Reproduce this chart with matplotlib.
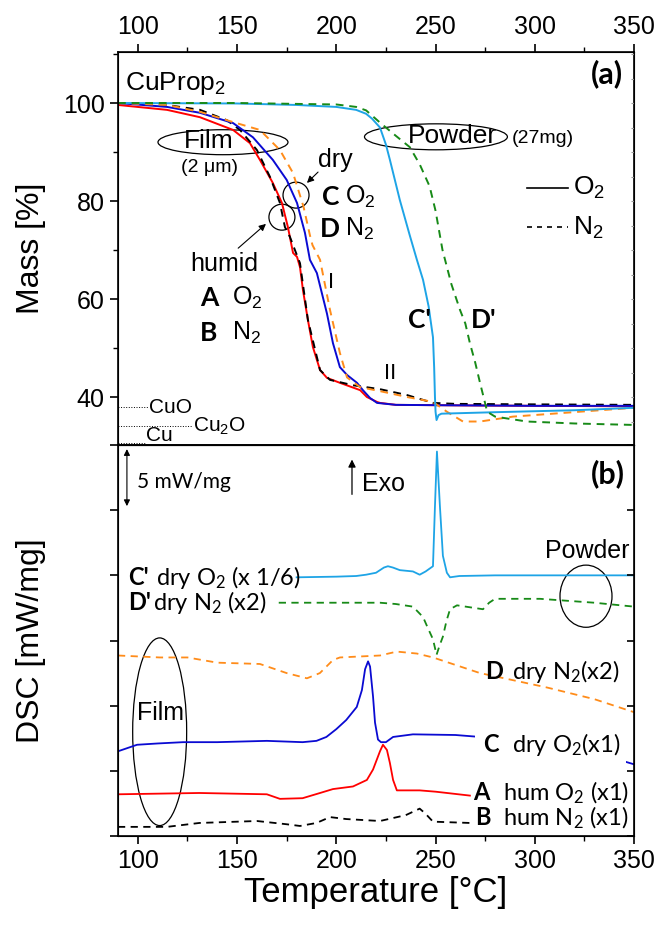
import matplotlib
matplotlib.use("Agg")
import matplotlib.pyplot as plt
from matplotlib.patches import Ellipse
from matplotlib.ticker import MultipleLocator, NullFormatter

plt.rcParams['font.family'] = ['Liberation Sans', 'DejaVu Sans']
plt.rcParams['mathtext.default'] = 'regular'

# ---- TGA (mass %) ----
tA = [90, 114.7, 131.3, 148, 156.5, 161.5, 168, 172.6, 175.6, 178.2, 180.2, 181.7, 183.2, 185.7, 188.2, 191.8, 195.3, 201.8, 212, 215.4, 220.5, 222, 230, 260, 300, 350]
mA = [99.6, 98.6, 97.1, 94.5, 91.8, 88.4, 83.7, 79.6, 74.7, 69.4, 68.6, 66.5, 61.8, 55.7, 50.2, 45.5, 43.9, 42.9, 41.4, 40.0, 39.0, 38.8, 38.4, 38.3, 38.2, 38.1]

tB = [90, 114.7, 131.3, 144.8, 151.5, 160, 166.6, 171.6, 174.1, 176.6, 181.7, 185.7, 191.8, 196.8, 208.4, 222, 235.6, 248.7, 260, 300, 350]
mB = [100, 99.6, 98.6, 96.5, 94.5, 90.4, 84.9, 79.6, 74.7, 72.7, 67.3, 55.7, 45.5, 43.5, 42.4, 41.6, 40.4, 38.8, 38.6, 38.5, 38.4]

tC = [90, 114.7, 131.3, 148, 158, 168, 175, 180.2, 184.2, 186.7, 190.2, 195.3, 198.3, 201.8, 205.4, 210.4, 213.4, 217, 220.5, 230, 260, 300, 350]
mC = [100, 99.2, 98.0, 95.9, 93.0, 88.4, 84.3, 79.6, 73.5, 68.0, 65.3, 57.0, 51.0, 46.1, 44.5, 42.9, 41.4, 39.8, 38.8, 38.4, 38.3, 38.2, 38.2]

tD = [90, 114.7, 131.3, 148, 161.5, 171.6, 178.2, 183.5, 186.7, 188, 191.8, 196.8, 201.8, 205.4, 212, 222, 235.6, 248.7, 255.7, 263.8, 272.4, 289, 322.7, 350]
mD = [100, 99.6, 98.2, 96.1, 94.5, 90.4, 85.7, 78.8, 73, 71, 68, 57.8, 49, 44, 42, 41.2, 40, 39, 37, 35, 35, 36, 37, 37.8]

tCp = [90, 150, 180, 200, 210, 215, 218, 222, 225, 227, 232, 237, 240.6, 243.7, 246.5, 248.7, 249.3, 249.7, 250, 250.5, 251.5, 253, 280, 320, 350]
mCp = [100, 99.9, 99.6, 99.2, 98.6, 97.8, 96.8, 95, 91.5, 88.4, 80.2, 73, 68, 63.9, 58.5, 52.2, 46, 40, 37, 35.3, 36.3, 36.6, 36.9, 37.3, 37.8]

tDp = [90, 150, 200, 210, 215, 222, 230, 237, 242, 247, 250, 253.5, 258, 262.3, 265, 267.3, 270, 272.4, 274.5, 276, 280, 296, 320, 350]
mDp = [100, 100, 99.7, 99.2, 98.5, 96, 93.3, 91, 87.5, 83, 78, 70, 63, 57.8, 55, 51, 47, 42.9, 39.5, 37, 36, 35, 34.6, 34.3]

# theoretical residues
res_names = ['CuO', 'Cu$_2$O', 'Cu']
res_mass = [37.9, 34.1, 30.6]
res_end = [105.1, 127.3, 103.6]

# ---- DSC (mW/mg, offset) ----
dCp_t = [180, 200, 210, 215, 220, 224, 226, 228.5, 232, 238.6, 242, 245, 248.7, 249.7, 250.7, 252.2, 253.7, 255.7, 257.3, 262, 280, 350]
dCp_v = [19.85, 19.9, 19.95, 20.05, 20.2, 20.6, 20.7, 20.6, 20.4, 20.3, 20.05, 20.3, 20.7, 25.3, 29.5, 25.3, 21.5, 20.2, 19.85, 19.95, 20.0, 20.0]

dDp_t = [171, 200, 222, 230, 238.6, 243.7, 246, 248.7, 250.5, 252, 253.7, 255.5, 257.3, 260.8, 273.9, 277, 280, 302.6, 330, 350]
dDp_v = [17.9, 17.9, 17.9, 17.8, 17.6, 16.8, 16.0, 15.1, 13.9, 14.6, 15.3, 16.5, 17.4, 17.7, 17.4, 17.9, 18.2, 18.2, 17.9, 17.6]

dD_t = [90, 111, 125, 140, 161.5, 175, 185.2, 191.7, 198.3, 201.8, 222, 230.5, 240.6, 248.7, 272.4, 306, 330, 350]
dD_v = [13.85, 13.7, 13.7, 13.3, 13.2, 12.5, 12.1, 12.5, 13.5, 13.7, 13.85, 14.15, 14.0, 13.7, 12.5, 11.4, 10.5, 9.5]

dC_t = [90, 99.6, 110, 122.8, 140, 165, 183, 190, 195, 200, 205, 210.3, 212.9, 214.5, 216, 217, 218.5, 219.5, 221, 222.5, 225, 228.6, 238.6, 260, 272.4, 300, 326, 339, 350]
dC_v = [6.5, 7.0, 7.1, 7.2, 7.2, 7.3, 7.2, 7.3, 7.6, 8.2, 8.9, 9.9, 11.2, 12.8, 13.4, 13.0, 10.7, 8.7, 7.4, 7.2, 7.2, 7.6, 7.8, 7.75, 7.6, 7.1, 6.4, 6.0, 5.5]

dA_t = [90, 131, 165, 171.6, 183, 191.8, 198.3, 208.4, 215.4, 218.5, 221, 222, 223.5, 225.5, 227, 228.6, 230.5, 242, 250, 267.3]
dA_v = [3.2, 3.3, 3.2, 2.85, 2.9, 3.3, 3.6, 3.8, 4.3, 5.1, 6.1, 6.5, 7.0, 6.6, 5.6, 4.3, 3.5, 3.5, 3.4, 3.1]

dB_t = [90, 114.7, 131, 160, 175, 181.7, 190, 196.8, 205, 222, 235, 242, 245, 248.7, 267.3]
dB_v = [0.7, 0.7, 1.0, 1.15, 0.9, 0.77, 1.0, 1.45, 1.3, 1.15, 1.6, 2.1, 1.7, 1.1, 1.0]

RED = '#ff0000'
BLUE = '#0a0ad2'
ORANGE = '#ff8c1a'
CYAN = '#1ea4e6'
GREEN = '#178a17'
DASH = (0, (4, 3))
CAL = ['Lato', 'DejaVu Sans']

fig = plt.figure(figsize=(6.61, 9.26), dpi=100)
ax1 = fig.add_axes([0.1785, 0.5194, 0.7807, 0.4244])
ax2 = fig.add_axes([0.1785, 0.0972, 0.7807, 0.4222])

# ---------------- top panel ----------------
ax1.plot(tA, mA, color=RED, lw=1.4)
ax1.plot(tB, mB, color='black', lw=1.4, ls=DASH)
ax1.plot(tC, mC, color=BLUE, lw=1.4)
ax1.plot(tD, mD, color=ORANGE, lw=1.4, ls=DASH)
ax1.plot(tCp, mCp, color=CYAN, lw=1.4)
ax1.plot(tDp, mDp, color=GREEN, lw=1.4, ls=DASH)

for name, m, xe in zip(res_names, res_mass, res_end):
    ax1.plot([90, xe], [m, m], color='black', lw=0.7, ls=':')
    va = 'bottom' if name == 'Cu' else 'center'
    yy = 30.25 if name == 'Cu' else m
    ax1.text(xe + 0.3, yy, name, fontsize=15, ha='left', va=va)

ax1.set_xlim(90, 350)
ax1.set_ylim(30.2, 110.4)
ax1.xaxis.set_major_locator(MultipleLocator(50))
ax1.xaxis.set_minor_locator(MultipleLocator(25))
ax1.yaxis.set_major_locator(MultipleLocator(20))
ax1.yaxis.set_minor_locator(MultipleLocator(10))
ax1.tick_params(axis='x', which='both', top=True, bottom=True, labeltop=True,
                labelbottom=False, direction='out', labelsize=18)
ax1.tick_params(axis='y', which='both', left=True, right=False, direction='out', labelsize=18)
ax1.tick_params(which='major', length=6, width=1.2)
ax1.tick_params(which='minor', length=3.5, width=1.0)
ax1.set_ylabel('Mass [%]', fontsize=23)
ax1.yaxis.set_label_coords(-0.1395, 0.5)

ax1r = ax1.twinx()
ax1r.set_ylim(ax1.get_ylim())
ax1r.yaxis.set_major_locator(MultipleLocator(5))
ax1r.yaxis.set_major_formatter(NullFormatter())
ax1r.tick_params(axis='y', direction='in', length=2.5, width=0.8, color='#999999')

ax1.text(93.5, 104.0, 'CuProp$_2$', fontsize=19, ha='left', va='center')
ax1.text(336.3, 105.9, '(a)', fontsize=22, fontweight='bold', ha='center', va='center', family=CAL)

ax1.add_patch(Ellipse((142.9, 92.0), 65.5, 5.1, fill=False, lw=0.9))
ax1.text(135.5, 92.2, 'Film', fontsize=19, ha='center', va='center')
ax1.text(136.3, 86.9, '(2 \u03bcm)', fontsize=14, ha='center', va='center')

ax1.add_patch(Ellipse((250.2, 93.1), 72.0, 5.3, fill=False, lw=0.9))
ax1.text(258.3, 93.3, 'Powder', fontsize=19, ha='center', va='center')
ax1.text(304.0, 92.7, '(27mg)', fontsize=14, ha='center', va='center')

# dry / humid markers
ax1.add_patch(Ellipse((179.7, 81.2), 13.1, 5.3, fill=False, lw=0.9))
ax1.add_patch(Ellipse((172.6, 76.7), 13.1, 5.3, fill=False, lw=0.9))
ax1.annotate('', xy=(184.2, 83.3), xytext=(191.8, 86.3),
             arrowprops=dict(arrowstyle='-|>', color='black', lw=0.8, mutation_scale=10))
ax1.annotate('', xy=(165.6, 75.7), xytext=(149.5, 70.0),
             arrowprops=dict(arrowstyle='-|>', color='black', lw=0.8, mutation_scale=10))
ax1.text(199.3, 88.4, 'dry', fontsize=18, ha='center', va='center')
ax1.text(143.4, 67.1, 'humid', fontsize=18, ha='center', va='center')

ax1.text(135.8, 60.2, 'A', fontsize=19, fontweight='bold', ha='center', va='center', family=CAL)
ax1.text(147.5, 60.2, 'O$_2$', fontsize=18, ha='left', va='center')
ax1.text(135.8, 53.1, 'B', fontsize=19, fontweight='bold', ha='center', va='center', family=CAL)
ax1.text(147.5, 53.1, 'N$_2$', fontsize=18, ha='left', va='center')
ax1.text(197.0, 80.8, 'C', fontsize=19, fontweight='bold', ha='center', va='center', family=CAL)
ax1.text(204.5, 80.8, 'O$_2$', fontsize=18, ha='left', va='center')
ax1.text(197.0, 74.3, 'D', fontsize=19, fontweight='bold', ha='center', va='center', family=CAL)
ax1.text(204.5, 74.3, 'N$_2$', fontsize=18, ha='left', va='center')
ax1.text(197.3, 63.3, 'I', fontsize=16, ha='center', va='center')
ax1.text(227.0, 44.9, 'II', fontsize=16, ha='center', va='center')
ax1.text(242.1, 55.7, "C'", fontsize=19, fontweight='bold', ha='center', va='center', family=CAL)
ax1.text(274.4, 55.7, "D'", fontsize=19, fontweight='bold', ha='center', va='center', family=CAL)

# line-style key
ax1.plot([296, 316.7], [82.7, 82.7], color='black', lw=1.2)
ax1.plot([296, 316.7], [74.6, 74.6], color='black', lw=1.2, ls=(0, (3, 3)))
ax1.text(319.0, 82.7, 'O$_2$', fontsize=19, ha='left', va='center')
ax1.text(319.0, 74.6, 'N$_2$', fontsize=19, ha='left', va='center')

# ---------------- bottom panel ----------------
ax2.plot(dCp_t, dCp_v, color=CYAN, lw=1.3)
ax2.plot(dDp_t, dDp_v, color=GREEN, lw=1.3, ls=DASH)
ax2.plot(dD_t, dD_v, color=ORANGE, lw=1.3, ls=DASH)
ax2.plot(dC_t, dC_v, color=BLUE, lw=1.3)
ax2.plot(dA_t, dA_v, color=RED, lw=1.3)
ax2.plot(dB_t, dB_v, color='black', lw=1.3, ls=DASH)

ax2.set_xlim(90, 350)
ax2.set_ylim(0, 30)
ax2.xaxis.set_major_locator(MultipleLocator(50))
ax2.xaxis.set_minor_locator(MultipleLocator(25))
ax2.yaxis.set_major_locator(MultipleLocator(5))
ax2.yaxis.set_major_formatter(NullFormatter())
ax2.tick_params(axis='x', which='both', top=False, bottom=True, direction='out', labelsize=18)
ax2.tick_params(axis='y', which='major', left=True, right=False, direction='out', length=6, width=1.2)
ax2.tick_params(axis='x', which='major', length=6, width=1.2)
ax2.tick_params(axis='x', which='minor', length=3.5, width=1.0)
ax2.set_ylabel('DSC [mW/mg]', fontsize=23)
ax2.yaxis.set_label_coords(-0.1395, 0.5)
ax2.set_xlabel('Temperature [\u00b0C]', fontsize=25, labelpad=2)

ax2r = ax2.twinx()
ax2r.set_ylim(ax2.get_ylim())
ax2r.yaxis.set_major_locator(MultipleLocator(5))
ax2r.yaxis.set_major_formatter(NullFormatter())
ax2r.tick_params(axis='y', direction='in', length=5, width=1.2)

ax2.annotate('', xy=(94.5, 25.1), xytext=(94.5, 29.9),
             arrowprops=dict(arrowstyle='<|-|>', color='black', lw=0.8, mutation_scale=9))
ax2.text(99.6, 27.2, '5 mW/mg', fontsize=15, ha='left', va='center', family=CAL)
ax2.annotate('', xy=(207.9, 29.1), xytext=(207.9, 26.0),
             arrowprops=dict(arrowstyle='-|>', color='black', lw=0.9, mutation_scale=11))
ax2.text(213.0, 27.0, 'Exo', fontsize=18, ha='left', va='center')
ax2.text(337.0, 27.8, '(b)', fontsize=22, fontweight='bold', ha='center', va='center', family=CAL)

ax2.add_patch(Ellipse((325.8, 18.4), 26.2, 4.77, fill=False, lw=0.9))
ax2.text(326.3, 21.9, 'Powder', fontsize=18, ha='center', va='center')
ax2.add_patch(Ellipse((111.0, 8.0), 27.2, 14.4, fill=False, lw=0.9))
ax2.text(111.2, 9.4, 'Film', fontsize=18, ha='center', va='center')

# DSC curve labels: bold letter + description
dsc_labels = [
    (95.0, 19.85, "C'", "dry O$_2$ (x 1/6)", 20, False),
    (95.0, 17.9, "D'", "dry N$_2$ (x2)", 18, False),
    (274.9, 12.6, "D", "dry N$_2$(x2)", 19.5, False),
    (273.9, 7.0, "C", "dry O$_2$(x1)", 21, True),
    (268.8, 3.3, "A", "hum O$_2$ (x1)", 21.5, False),
    (269.8, 1.4, "B", "hum N$_2$ (x1)", 20, False),
]
for x, y, letter, desc, dx, mask in dsc_labels:
    bb1 = dict(facecolor='white', edgecolor='none', pad=6) if mask else None
    bb2 = dict(facecolor='white', edgecolor='none', pad=4) if mask else None
    ax2.text(x, y, letter, fontsize=17, fontweight='bold', ha='left', va='center', family=CAL, bbox=bb1)
    ax2.annotate(desc, xy=(x, y), xytext=(dx, 0), textcoords='offset points',
                 fontsize=17, ha='left', va='center', family=CAL, bbox=bb2)

for ax in (ax1, ax2):
    for s in ax.spines.values():
        s.set_linewidth(1.2)

fig.savefig('out.png', dpi=100)
